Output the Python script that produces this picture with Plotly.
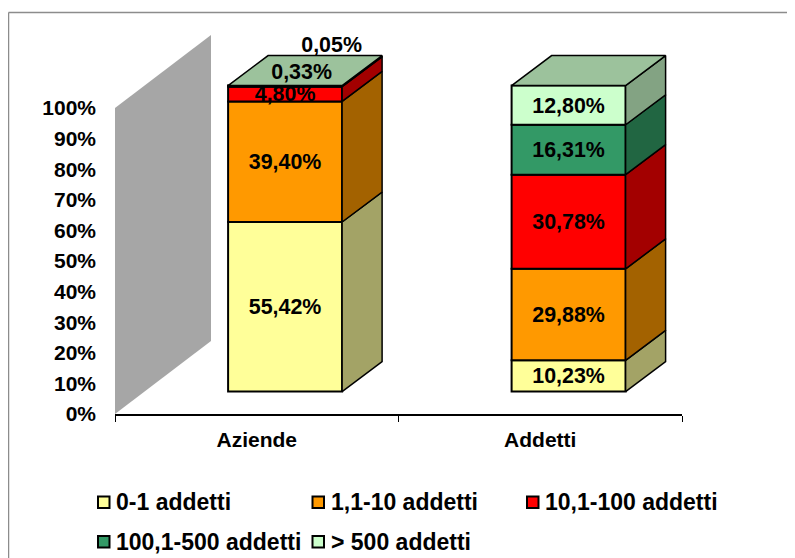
import plotly.graph_objects as go

categories = ["Aziende", "Addetti"]
series_names = ["0-1 addetti", "1,1-10 addetti", "10,1-100 addetti", "100,1-500 addetti", "> 500 addetti"]
values_0_1 = [55.42, 10.23]
values_1_10 = [39.40, 29.88]
values_10_100 = [4.80, 30.78]
values_100_500 = [0.33, 16.31]
values_500 = [0.05, 12.80]
y_ticks = [0, 10, 20, 30, 40, 50, 60, 70, 80, 90, 100]

front_colors = ["#FFFF99", "#FF9900", "#FF0000", "#339966", "#CCFFCC"]
side_colors = ["#A3A366", "#A36200", "#A30000", "#216642", "#83A383"]
top_color = "#9CC29C"
wall_color = "#A6A6A6"
FONT = "Liberation Sans"
FS = 21

# the page body has an 8 px margin, so the figure starts at (8, 8) in the window
OFF = 8
W, H = 795 - OFF, 558 - OFF
L, R, T, B = 115 - OFF, 682 - OFF, 13 - OFF, 414 - OFF
PX_PER_UNIT = (B - (108 - OFF)) / 100
PX_PER_CAT = (R - L) / 2
y_max = (B - T) / PX_PER_UNIT

bar_w = 114 / PX_PER_CAT
bar_off = 0.6
base_lift = 22.4 / PX_PER_UNIT
depth_x = 40 / PX_PER_CAT
depth_y = 30 / PX_PER_UNIT
wall_dx = 96 / PX_PER_CAT
wall_dy = 73 / PX_PER_UNIT
label_drop = 2 / PX_PER_UNIT


def px(x):
    return (x - OFF - L) / (R - L)


def py(y):
    return (B - (y - OFF)) / (B - T)


series = [values_0_1, values_1_10, values_10_100, values_100_500, values_500]
centers = [i + bar_off for i in range(len(categories))]

fig = go.Figure()

# back wall
fig.add_trace(go.Scatter(
    x=[0, wall_dx, wall_dx, 0, 0],
    y=[0, wall_dy, 100 + wall_dy, 100, 0],
    mode="lines", fill="toself", fillcolor=wall_color, line=dict(width=0),
    showlegend=False, hoverinfo="skip"))

# front faces and side faces
cum = [base_lift] * len(categories)
for s, vals in enumerate(series):
    fig.add_trace(go.Bar(
        x=centers, y=vals, base=cum[:], width=bar_w, name=series_names[s],
        marker=dict(color=front_colors[s], line=dict(color="black", width=2)),
        showlegend=False))
    for c, cx in enumerate(centers):
        rx = cx + bar_w / 2
        y0, y1 = cum[c], cum[c] + vals[c]
        fig.add_trace(go.Scatter(
            x=[rx, rx + depth_x, rx + depth_x, rx, rx],
            y=[y0, y0 + depth_y, y1 + depth_y, y1, y0],
            mode="lines", fill="toself", fillcolor=side_colors[s],
            line=dict(color="black", width=1.5),
            showlegend=False, hoverinfo="skip"))
    cum = [a + b for a, b in zip(cum, vals)]

# top faces
for c, cx in enumerate(centers):
    lx, rx = cx - bar_w / 2, cx + bar_w / 2
    t = cum[c]
    fig.add_trace(go.Scatter(
        x=[lx, rx, rx + depth_x, lx + depth_x, lx],
        y=[t, t, t + depth_y, t + depth_y, t],
        mode="lines", fill="toself", fillcolor=top_color,
        line=dict(color="black", width=1.5),
        showlegend=False, hoverinfo="skip"))

# value labels
nudges = {(0, 3): (16.5, 14.5), (0, 4): (46.5, 41)}
lab_x, lab_y, lab_t = [], [], []
for c, cx in enumerate(centers):
    cm = base_lift
    for s, vals in enumerate(series):
        v = vals[c]
        dx, dy = nudges.get((c, s), (0, 0))
        lab_x.append(cx + dx / PX_PER_CAT)
        lab_y.append(cm + v / 2 + dy / PX_PER_UNIT - label_drop)
        lab_t.append(f"{v:.2f}%".replace(".", ","))
        cm += v
fig.add_trace(go.Scatter(
    x=lab_x, y=lab_y, text=lab_t, mode="text", textposition="middle center",
    textfont=dict(family=FONT, size=FS + 0.4, color="black", weight="bold"),
    showlegend=False, hoverinfo="skip", cliponaxis=False))

frame = dict(type="line", xref="paper", yref="paper", line=dict(color="#8C8C8C", width=1.5), layer="below")
shapes = [
    dict(frame, x0=px(8.5), x1=px(795), y0=py(12.5), y1=py(12.5)),
    dict(frame, x0=px(8.5), x1=px(8.5), y0=py(12.5), y1=py(558)),
]
annotations = []
legend_cells = [(97, 502), (311.5, 502), (526, 502), (97, 541.5), (311.5, 541.5)]
for (lx, ly), name, col in zip(legend_cells, series_names, front_colors):
    shapes.append(dict(type="rect", xref="paper", yref="paper", x0=px(lx + 1), x1=px(lx + 12.5),
                       y0=py(ly - 5.5), y1=py(ly + 6), fillcolor=col, line=dict(color="black", width=2)))
    annotations.append(dict(xref="paper", yref="paper", x=px(lx + 17), y=py(ly), text=f"<b>{name}</b>",
                            showarrow=False, xanchor="left", yanchor="middle",
                            font=dict(family=FONT, size=FS + 2, color="black")))

fig.update_layout(
    width=W, height=H, autosize=False,
    margin=dict(l=L, r=W - R, t=T, b=H - B),
    paper_bgcolor="white", plot_bgcolor="white",
    barmode="overlay", showlegend=False,
    shapes=shapes, annotations=annotations,
    xaxis=dict(
        range=[0, 2], tickmode="array", tickvals=[0.5, 1.5], ticktext=categories,
        ticks="", showgrid=False, zeroline=False, showline=True, linecolor="black", linewidth=2,
        ticklabelstandoff=6,
        tickfont=dict(family=FONT, size=FS, color="black", weight="bold"),
        minor=dict(tickmode="array", tickvals=[0, 1, 2], ticks="outside", ticklen=6, tickwidth=1,
                   tickcolor="black", showgrid=False)),
    yaxis=dict(
        range=[0, y_max], tickmode="array", tickvals=y_ticks, ticktext=[f"{t}%" for t in y_ticks],
        ticks="", showgrid=False, zeroline=False, showline=False, ticklabelstandoff=18,
        tickfont=dict(family=FONT, size=FS, color="black", weight="bold")),
)

fig.write_html("out.html")
